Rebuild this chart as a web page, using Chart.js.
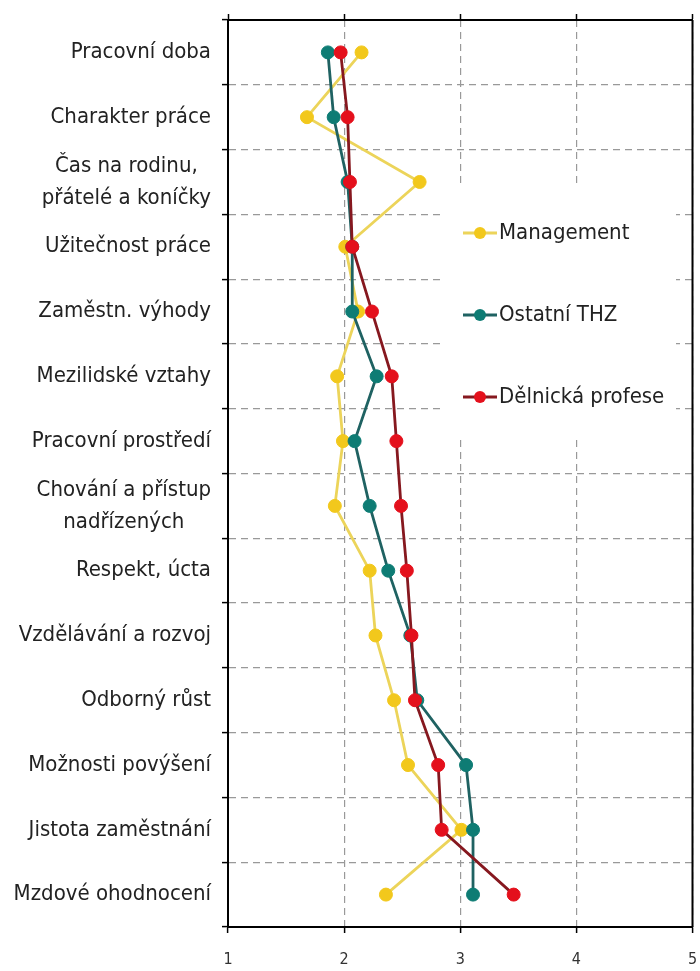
<!DOCTYPE html>
<html>
<head>
<meta charset="utf-8">
<script src="https://cdn.jsdelivr.net/npm/chart.js@4"></script>
<style>
  html, body { margin: 0; padding: 0; background: #fff; }
</style>
</head>
<body>
<canvas id="chart" width="700" height="971"></canvas>
<script>
const categories = [
    'Pracovní doba',
    'Charakter práce',
    ['Čas na rodinu,', 'přátelé a koníčky'],
    'Užitečnost práce',
    'Zaměstn. výhody',
    'Mezilidské vztahy',
    'Pracovní prostředí',
    ['Chování a přístup', 'nadřízených'],
    'Respekt, úcta',
    'Vzdělávání a rozvoj',
    'Odborný růst',
    'Možnosti povýšení',
    'Jistota zaměstnání',
    'Mzdové ohodnocení'
];
const seriesNames = ['Management', 'Ostatní THZ', 'Dělnická profese'];
const management = [2.15, 1.68, 2.65, 2.01, 2.12, 1.94, 1.99, 1.92, 2.22, 2.27, 2.43, 2.55, 3.01, 2.36];
const ostatniTHZ = [1.86, 1.91, 2.03, 2.07, 2.07, 2.28, 2.09, 2.22, 2.38, 2.57, 2.63, 3.05, 3.11, 3.11];
const delnicka = [1.97, 2.03, 2.05, 2.07, 2.24, 2.41, 2.45, 2.49, 2.54, 2.58, 2.61, 2.81, 2.84, 3.46];
const xTicks = [1, 2, 3, 4, 5];

const FONT = '"DejaVu Sans Condensed", "Liberation Sans Narrow", "DejaVu Sans", sans-serif';

// category labels drawn by hand so two-line labels are centred on each other
const yLabels = {
    id: 'yLabels',
    afterDraw(chart) {
        const { ctx } = chart;
        const y = chart.scales.y;
        ctx.save();
        ctx.font = '22px ' + FONT;
        ctx.fillStyle = '#222';
        ctx.textAlign = 'center';
        ctx.textBaseline = 'middle';
        categories.forEach((lab, i) => {
            const lines = Array.isArray(lab) ? lab : [lab];
            const w = Math.max(...lines.map(l => ctx.measureText(l).width));
            const cx = y.right - 17 - w / 2;
            const cy = y.getPixelForValue(i);
            lines.forEach((l, j) => {
                ctx.fillText(l, cx, cy + (j - (lines.length - 1) / 2) * 32);
            });
        });
        ctx.restore();
    }
};

// legend sits inside the plot on a white box
const insideLegend = {
    id: 'insideLegend',
    beforeDatasetsDraw(chart) {
        const { ctx, chartArea } = chart;
        ctx.save();
        // right border of the plot
        ctx.strokeStyle = '#000';
        ctx.lineWidth = 2;
        ctx.beginPath();
        ctx.moveTo(chartArea.right, chartArea.top);
        ctx.lineTo(chartArea.right, chartArea.bottom);
        ctx.stroke();

        ctx.fillStyle = '#fff';
        ctx.fillRect(443, 184, 233, 253);
        ctx.font = '22px ' + FONT;
        ctx.textBaseline = 'middle';
        ctx.textAlign = 'left';
        const rows = [233, 315, 397];
        chart.data.datasets.forEach((ds, i) => {
            const yy = rows[i];
            ctx.strokeStyle = ds.borderColor;
            ctx.lineWidth = 3;
            ctx.beginPath();
            ctx.moveTo(463, yy);
            ctx.lineTo(497, yy);
            ctx.stroke();
            ctx.fillStyle = ds.pointBackgroundColor;
            ctx.beginPath();
            ctx.arc(480, yy, 6, 0, Math.PI * 2);
            ctx.fill();
            ctx.fillStyle = '#222';
            ctx.fillText(ds.label, 499, yy);
        });
        ctx.restore();
    }
};

function series(label, data, line, mark, order) {
    return {
        label: label,
        data: data,
        borderColor: line,
        backgroundColor: mark,
        pointBackgroundColor: mark,
        pointBorderColor: mark,
        pointRadius: 6.5,
        pointBorderWidth: 1,
        borderWidth: 2.8,
        tension: 0,
        order: order
    };
}

const ctx = document.getElementById('chart').getContext('2d');
new Chart(ctx, {
    type: 'line',
    data: {
        labels: categories,
        datasets: [
            series(seriesNames[0], management, '#ecd45a', '#f2c81c', 3),
            series(seriesNames[1], ostatniTHZ, '#1f6262', '#0e7c74', 2),
            series(seriesNames[2], delnicka, '#86181f', '#e4101c', 1)
        ]
    },
    options: {
        indexAxis: 'y',
        responsive: false,
        animation: false,
        layout: { padding: { top: 0, right: 7, left: 0, bottom: 0 } },
        plugins: {
            legend: { display: false },
            tooltip: { enabled: false }
        },
        scales: {
            x: {
                type: 'linear',
                position: 'bottom',
                min: xTicks[0],
                max: xTicks[xTicks.length - 1],
                afterBuildTicks: s => { s.ticks = xTicks.map(v => ({ value: v })); },
                afterFit: s => { s.height = 44; s.paddingLeft = 0; s.paddingRight = 0; },
                ticks: {
                    color: '#333',
                    font: { family: FONT, size: 16 },
                    padding: 17,
                    maxRotation: 0,
                    autoSkip: false
                },
                grid: {
                    color: '#999',
                    lineWidth: 1.2,
                    tickColor: '#000',
                    tickLength: 6,
                    tickWidth: 1.5
                },
                border: { color: '#000', width: 2, dash: [7, 5] }
            },
            xTop: {
                type: 'linear',
                position: 'top',
                min: xTicks[0],
                max: xTicks[xTicks.length - 1],
                afterBuildTicks: s => { s.ticks = xTicks.map(v => ({ value: v })); },
                afterFit: s => { s.height = 20; s.paddingLeft = 0; s.paddingRight = 0; },
                ticks: { display: false },
                grid: {
                    drawOnChartArea: false,
                    tickColor: '#000',
                    tickLength: 6,
                    tickWidth: 1.5
                },
                border: { color: '#000', width: 2 }
            },
            y: {
                type: 'category',
                offset: true,
                afterFit: s => { s.width = 228; },
                ticks: { display: false },
                grid: {
                    offset: true,
                    color: '#999',
                    lineWidth: 1.2,
                    tickColor: '#000',
                    tickLength: 6,
                    tickWidth: 1.5
                },
                border: { color: '#000', width: 2, dash: [7, 5] }
            }
        }
    },
    plugins: [insideLegend, yLabels]
});
</script>
</body>
</html>
